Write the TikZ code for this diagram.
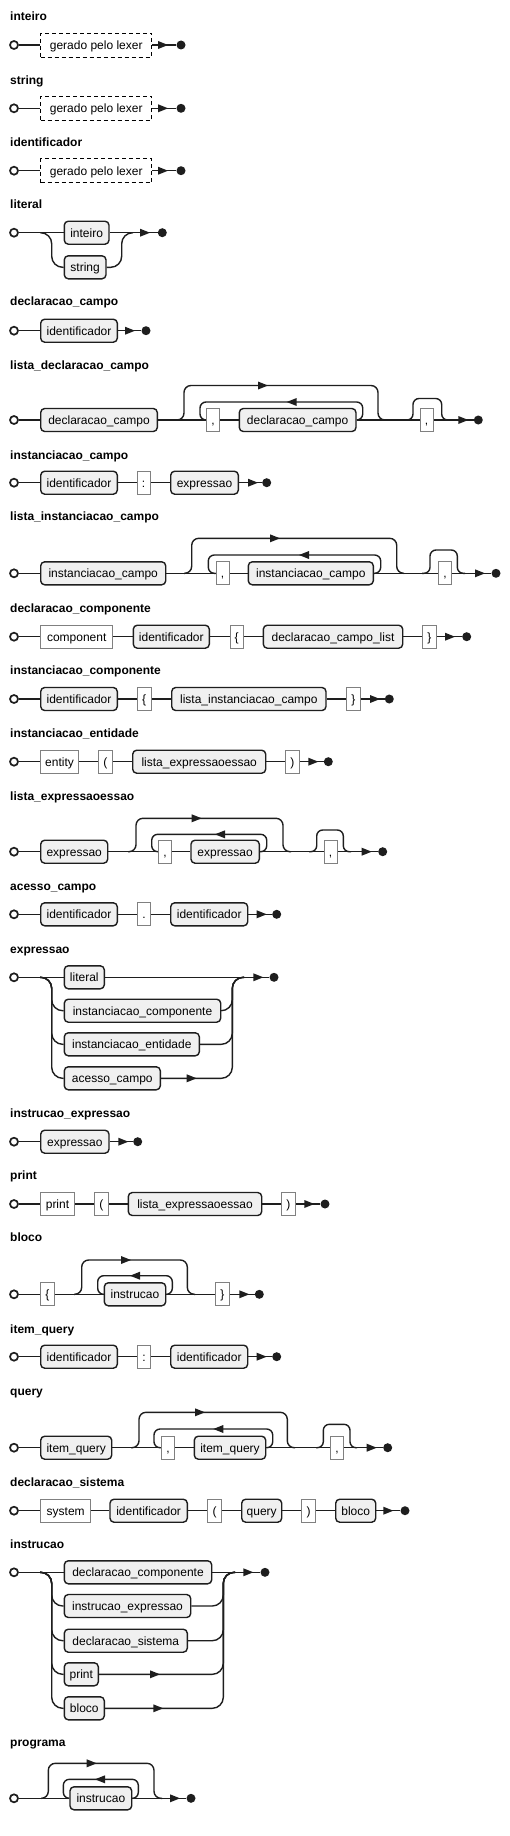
\documentclass[tikz,border=0pt]{standalone}
\usepackage{fontspec}
\setmainfont{Liberation Sans}
\definecolor{linec}{HTML}{1E1E1E}
\definecolor{ntfill}{HTML}{F0F0F0}
\definecolor{tmborder}{HTML}{808080}
\pgfdeclarelayer{bg}
\pgfsetlayers{bg,main}
\tikzset{
  rr/.style={draw=linec, line width=1.4pt},
  nt/.style={draw=linec, fill=ntfill, line width=1.4pt, rounded corners=4pt, minimum height=23pt, inner sep=0pt, text height=9pt, text depth=0pt, font=\fontsize{12}{14}\selectfont},
  tm/.style={draw=tmborder, fill=white, line width=1pt, minimum height=23pt, inner sep=0pt, text height=9pt, text depth=0pt, font=\fontsize{12}{14}\selectfont},
  lexbox/.style={draw=black, dash pattern=on 4pt off 3pt, line width=0.8pt, fill=white, minimum height=24pt, inner sep=0pt, text height=9pt, text depth=0pt, font=\fontsize{12}{14}\selectfont},
  titlel/.style={anchor=base west, inner sep=0pt, font=\bfseries\fontsize{12}{14}\selectfont},
  startc/.style={circle, draw=linec, fill=white, line width=1.7pt, minimum size=8pt, inner sep=0pt},
  endc/.style={circle, fill=linec, minimum size=9pt, inner sep=0pt},
}
\newcommand\NT[5]{\node[nt,minimum width={(#3-#2)*1pt}] (#1) at ({(#2+#3)/2},#4) {#5};}
\newcommand\TM[5]{\node[tm,minimum width={(#3-#2)*1pt}] (#1) at ({(#2+#3)/2},#4) {#5};}
\newcommand\ST[3]{\node[startc] (#1) at (#2,#3) {};}
\newcommand\EN[3]{\node[endc] (#1) at (#2,#3) {};}
\newcommand\AR[2]{\fill[linec] (#1-5,#2-4) -- (#1+5,#2) -- (#1-5,#2+4) -- cycle;}
\newcommand\AL[2]{\fill[linec] (#1+5,#2-4) -- (#1-5,#2) -- (#1+5,#2+4) -- cycle;}
\begin{document}
\begin{tikzpicture}[x=1pt,y=-1pt]
\useasboundingbox (0,0) rectangle (510,1836);
\begin{pgfonlayer}{bg}
\fill[white] (0,0) rectangle (510,1836);
\end{pgfonlayer}

% 1 inteiro
\node[titlel] (t1) at (10,21) {inteiro};
\ST{s1}{14}{45}
\node[lexbox, minimum width=111pt] (x1) at (96.2,45) {gerado pelo lexer};
\AR{163}{45}
\EN{e1}{181}{45}
% 2 string
\node[titlel] (t2) at (10,84.3) {string};
\ST{s2}{14}{108.3}
\node[lexbox, minimum width=111pt] (x2) at (96.2,108.3) {gerado pelo lexer};
\AR{163}{108.3}
\EN{e2}{181}{108.3}
% 3 identificador
\node[titlel] (t3) at (10,146.2) {identificador};
\ST{s3}{14}{170.7}
\node[lexbox, minimum width=111pt] (x3) at (96.2,170.7) {gerado pelo lexer};
\AR{163}{170.7}
\EN{e3}{181}{170.7}
% 4 literal
\node[titlel] (t4) at (10,208.7) {literal};
\ST{s4}{14}{232.7}
\NT{a4}{64.3}{109}{232.7}{inteiro}
\NT{b4}{64.3}{106}{267.3}{string}
\AR{145}{232.7}
\EN{e4}{162.3}{232.7}
% 5 declaracao_campo
\node[titlel] (t5) at (10,305.7) {declaracao\_campo};
\ST{s5}{14}{330.7}
\NT{a5}{40.7}{117.3}{330.7}{identificador}
\AR{130}{330.7}
\EN{e5}{146}{330.7}
% 6 lista_declaracao_campo
\node[titlel] (t6) at (10,369) {lista\_declaracao\_campo};
\ST{s6}{14}{420}
\NT{a6}{40.7}{157.3}{420}{declaracao\_campo}
\TM{c6}{206.7}{219.3}{420}{,}
\NT{b6}{239.3}{356}{420}{declaracao\_campo}
\TM{d6}{420}{433.3}{420}{,}
\AR{263}{385.5}
\AL{291.7}{402}
\AR{463.3}{420}
\EN{e6}{478.3}{420}
% 7 instanciacao_campo
\node[titlel] (t7) at (10,459) {instanciacao\_campo};
\ST{s7}{14}{482.7}
\NT{a7}{40.7}{117.3}{482.7}{identificador}
\TM{b7}{137.3}{150}{482.7}{:}
\NT{c7}{170.7}{238.3}{482.7}{expressao}
\AR{253}{482.7}
\EN{e7}{266.7}{482.7}
% 8 lista_instanciacao_campo
\node[titlel] (t8) at (10,520.7) {lista\_instanciacao\_campo};
\ST{s8}{14}{573.3}
\NT{a8}{40.7}{165.7}{573.3}{instanciacao\_campo}
\TM{c8}{216}{229.3}{573.3}{,}
\NT{b8}{248.3}{373.3}{573.3}{instanciacao\_campo}
\TM{d8}{438.3}{451.7}{573.3}{,}
\AR{275}{538.3}
\AL{304}{555}
\AR{480}{573.3}
\EN{e8}{496}{573.3}
% 9 declaracao_componente
\node[titlel] (t9) at (10,612.3) {declaracao\_componente};
\ST{s9}{14}{636.7}
\TM{a9}{40.7}{112.7}{636.7}{component}
\NT{b9}{133.3}{209.3}{636.7}{identificador}
\TM{c9}{230}{243.3}{636.7}{\{}
\NT{d9}{263.3}{402.7}{636.7}{declaracao\_campo\_list}
\TM{f9}{422.7}{436}{636.7}{\}}
\AR{450}{636.7}
\EN{e9}{466.7}{636.7}
% 10 instanciacao_componente
\node[titlel] (t10) at (10,674.5) {instanciacao\_componente};
\ST{s10}{14}{699}
\NT{a10}{40.7}{117.3}{699}{identificador}
\TM{b10}{137.3}{151}{699}{\{}
\NT{c10}{171.7}{326}{699}{lista\_instanciacao\_campo}
\TM{d10}{346.7}{360}{699}{\}}
\AR{375}{699}
\EN{e10}{389.3}{699}
% 11 instanciacao_entidade
\node[titlel] (t11) at (10,737.3) {instanciacao\_entidade};
\ST{s11}{14}{761.7}
\TM{a11}{40.7}{78.3}{761.7}{entity}
\TM{b11}{98.3}{112.3}{761.7}{(}
\NT{c11}{132.7}{265.7}{761.7}{lista\_expressaoessao}
\TM{d11}{285.7}{299}{761.7}{)}
\AR{313.3}{761.7}
\EN{e11}{328.3}{761.7}
% 12 lista_expressaoessao
\node[titlel] (t12) at (10,800.7) {lista\_expressaoessao};
\ST{s12}{14}{851.7}
\NT{a12}{40.7}{107.7}{851.7}{expressao}
\TM{c12}{158.3}{171.7}{851.7}{,}
\NT{b12}{191}{259.3}{851.7}{expressao}
\TM{d12}{324}{337.3}{851.7}{,}
\AR{196.7}{818.3}
\AL{220}{834.3}
\AR{366.7}{851.7}
\EN{e12}{382.7}{851.7}
% 13 acesso_campo
\node[titlel] (t13) at (10,890) {acesso\_campo};
\ST{s13}{14}{914.3}
\NT{a13}{40.7}{117.3}{914.3}{identificador}
\TM{b13}{137.3}{150.7}{914.3}{.}
\NT{c13}{170.7}{247.7}{914.3}{identificador}
\AR{261.7}{914.3}
\EN{e13}{276.7}{914.3}
% 14 expressao
\node[titlel] (t14) at (10,953.3) {expressao};
\ST{s14}{14}{977.3}
\NT{a14}{64.3}{104.3}{977.3}{literal}
\NT{b14}{64.3}{220.7}{1010.7}{instanciacao\_componente}
\NT{c14}{64.3}{199.3}{1044.3}{instanciacao\_entidade}
\NT{d14}{64.3}{160.3}{1078.3}{acesso\_campo}
\AR{191.7}{1078.3}
\AR{258.3}{977.3}
\EN{e14}{274}{977.3}
% 15 instrucao_expressao
\node[titlel] (t15) at (10,1117.3) {instrucao\_expressao};
\ST{s15}{14}{1141.7}
\NT{a15}{40.7}{109}{1141.7}{expressao}
\AR{123.3}{1141.7}
\EN{e15}{137.7}{1141.7}
% 16 print
\node[titlel] (t16) at (10,1179.5) {print};
\ST{s16}{14}{1204}
\TM{a16}{40.7}{74.3}{1204}{print}
\TM{b16}{94.3}{108.3}{1204}{(}
\NT{c16}{128.3}{261.7}{1204}{lista\_expressaoessao}
\TM{d16}{281.7}{295}{1204}{)}
\AR{309.3}{1204}
\EN{e16}{325}{1204}
% 17 bloco
\node[titlel] (t17) at (10,1241.7) {bloco};
\ST{s17}{14}{1294.3}
\TM{a17}{40.7}{54.3}{1294.3}{\{}
\NT{b17}{104.3}{165.7}{1294.3}{instrucao}
\TM{c17}{215.7}{229.3}{1294.3}{\}}
\AR{126}{1260}
\AL{135}{1275.7}
\AR{244.3}{1294.3}
\EN{e17}{259.3}{1294.3}
% 18 item_query
\node[titlel] (t18) at (10,1333) {item\_query};
\ST{s18}{14}{1356.7}
\NT{a18}{40.7}{117.3}{1356.7}{identificador}
\TM{b18}{137.3}{150.7}{1356.7}{:}
\NT{c18}{170.7}{247.7}{1356.7}{identificador}
\AR{261.7}{1356.7}
\EN{e18}{276.7}{1356.7}
% 19 query
\node[titlel] (t19) at (10,1395) {query};
\ST{s19}{14}{1447.7}
\NT{a19}{40.7}{111.7}{1447.7}{item\_query}
\TM{c19}{161.7}{174.3}{1447.7}{,}
\NT{b19}{194.3}{265.7}{1447.7}{item\_query}
\TM{d19}{330.7}{343.3}{1447.7}{,}
\AR{200}{1412.3}
\AL{218.3}{1429}
\AR{371.7}{1447.7}
\EN{e19}{387.7}{1447.7}
% 20 declaracao_sistema
\node[titlel] (t20) at (10,1486) {declaracao\_sistema};
\ST{s20}{14}{1510.7}
\TM{a20}{40.7}{90.7}{1510.7}{system}
\NT{b20}{110}{187.3}{1510.7}{identificador}
\TM{c20}{207.3}{221.7}{1510.7}{(}
\NT{d20}{241.7}{281.7}{1510.7}{query}
\TM{f20}{301.7}{315.7}{1510.7}{)}
\NT{g20}{335.7}{375.7}{1510.7}{bloco}
\AR{388.3}{1510.7}
\EN{e20}{405}{1510.7}
% 21 instrucao
\node[titlel] (t21) at (10,1548) {instrucao};
\ST{s21}{14}{1572.3}
\NT{a21}{64.3}{211.7}{1572.3}{declaracao\_componente}
\NT{b21}{64.3}{190.7}{1606}{instrucao\_expressao}
\NT{c21}{64.3}{187.3}{1640.7}{declaracao\_sistema}
\NT{d21}{64.3}{98.3}{1674.3}{print}
\NT{f21}{64.3}{104.3}{1708.3}{bloco}
\AR{155}{1674.3}
\AR{158.3}{1708.3}
\AR{248.3}{1572.3}
\EN{e21}{265}{1572.3}
% 22 programa
\node[titlel] (t22) at (10,1746.3) {programa};
\ST{s22}{14}{1798.3}
\NT{a22}{70}{131.7}{1798.3}{instrucao}
\AR{91.7}{1763.3}
\AL{100}{1779.3}
\AR{175}{1798.3}
\EN{e22}{191}{1798.3}

\begin{pgfonlayer}{bg}
\draw[rr] (s1) -- (x1.west) (x1.east) -- (e1);
\draw[rr] (s2) -- (x2.west) (x2.east) -- (e2);
\draw[rr] (s3) -- (x3.west) (x3.east) -- (e3);
% literal
\draw[rr] (s4) -- (a4.west) (a4.east) -- (e4);
\draw[rr,rounded corners=11pt] (40,232.7) -- (51.7,232.7) -- (51.7,267.3) -- (b4.west);
\draw[rr,rounded corners=11pt] (b4.east) -- (121.7,267.3) -- (121.7,232.7) -- (133,232.7);
% declaracao_campo
\draw[rr] (s5) -- (a5.west) (a5.east) -- (e5);
% lista_declaracao_campo
\draw[rr] (s6) -- (a6.west) (a6.east) -- (c6.west) (c6.east) -- (b6.west) (b6.east) -- (d6.west) (d6.east) -- (e6);
\draw[rr,rounded corners=7pt] (176,420) -- (184,420) -- (184,385.5) -- (378,385.5) -- (378,420) -- (387,420);
\draw[rr,rounded corners=6pt] (b6.east) -- (362.7,420) -- (362.7,402) -- (200,402) -- (200,420) -- (c6.west);
\draw[rr,rounded corners=6pt] (405,420) -- (413,420) -- (413,398.5) -- (441.7,398.5) -- (441.7,420) -- (449,420);
% instanciacao_campo
\draw[rr] (s7) -- (a7.west) (a7.east) -- (b7.west) (b7.east) -- (c7.west) (c7.east) -- (e7);
% lista_instanciacao_campo
\draw[rr] (s8) -- (a8.west) (a8.east) -- (c8.west) (c8.east) -- (b8.west) (b8.east) -- (d8.west) (d8.east) -- (e8);
\draw[rr,rounded corners=7pt] (184,573.3) -- (191.7,573.3) -- (191.7,538.3) -- (396.7,538.3) -- (396.7,573.3) -- (404,573.3);
\draw[rr,rounded corners=6pt] (b8.east) -- (380.7,573.3) -- (380.7,555) -- (208.3,555) -- (208.3,573.3) -- (c8.west);
\draw[rr,rounded corners=6pt] (422,573.3) -- (430,573.3) -- (430,550) -- (457.3,550) -- (457.3,573.3) -- (465,573.3);
% declaracao_componente
\draw[rr] (s9) -- (a9.west) (a9.east) -- (b9.west) (b9.east) -- (c9.west) (c9.east) -- (d9.west) (d9.east) -- (f9.west) (f9.east) -- (e9);
% instanciacao_componente
\draw[rr] (s10) -- (a10.west) (a10.east) -- (b10.west) (b10.east) -- (c10.west) (c10.east) -- (d10.west) (d10.east) -- (e10);
% instanciacao_entidade
\draw[rr] (s11) -- (a11.west) (a11.east) -- (b11.west) (b11.east) -- (c11.west) (c11.east) -- (d11.west) (d11.east) -- (e11);
% lista_expressaoessao
\draw[rr] (s12) -- (a12.west) (a12.east) -- (c12.west) (c12.east) -- (b12.west) (b12.east) -- (d12.west) (d12.east) -- (e12);
\draw[rr,rounded corners=7pt] (128,851.7) -- (136,851.7) -- (136,818.3) -- (283,818.3) -- (283,851.7) -- (291,851.7);
\draw[rr,rounded corners=6pt] (b12.east) -- (266.7,851.7) -- (266.7,834.3) -- (151.7,834.3) -- (151.7,851.7) -- (c12.west);
\draw[rr,rounded corners=6pt] (309,851.7) -- (316.7,851.7) -- (316.7,830) -- (343.3,830) -- (343.3,851.7) -- (351,851.7);
% acesso_campo
\draw[rr] (s13) -- (a13.west) (a13.east) -- (b13.west) (b13.east) -- (c13.west) (c13.east) -- (e13);
% expressao
\draw[rr] (s14) -- (a14.west) (a14.east) -- (e14);
\foreach \n/\yy in {b14/1010.7,c14/1044.3,d14/1078.3}{
  \draw[rr,rounded corners=11pt] (40,977.3) -- (51.7,977.3) -- (51.7,\yy) -- (\n.west);
  \draw[rr,rounded corners=11pt] (\n.east) -- (232.3,\yy) -- (232.3,977.3) -- (244,977.3);
}
% instrucao_expressao
\draw[rr] (s15) -- (a15.west) (a15.east) -- (e15);
% print
\draw[rr] (s16) -- (a16.west) (a16.east) -- (b16.west) (b16.east) -- (c16.west) (c16.east) -- (d16.west) (d16.east) -- (e16);
% bloco
\draw[rr] (s17) -- (a17.west) (a17.east) -- (b17.west) (b17.east) -- (c17.west) (c17.east) -- (e17);
\draw[rr,rounded corners=7pt] (74,1294.3) -- (81.7,1294.3) -- (81.7,1260) -- (187.3,1260) -- (187.3,1294.3) -- (195,1294.3);
\draw[rr,rounded corners=6pt] (b17.east) -- (172.3,1294.3) -- (172.3,1275.7) -- (97.7,1275.7) -- (97.7,1294.3) -- (b17.west);
% item_query
\draw[rr] (s18) -- (a18.west) (a18.east) -- (b18.west) (b18.east) -- (c18.west) (c18.east) -- (e18);
% query
\draw[rr] (s19) -- (a19.west) (a19.east) -- (c19.west) (c19.east) -- (b19.west) (b19.east) -- (d19.west) (d19.east) -- (e19);
\draw[rr,rounded corners=7pt] (131,1447.7) -- (139,1447.7) -- (139,1412.3) -- (287.3,1412.3) -- (287.3,1447.7) -- (295,1447.7);
\draw[rr,rounded corners=6pt] (b19.east) -- (272.7,1447.7) -- (272.7,1429) -- (154,1429) -- (154,1447.7) -- (c19.west);
\draw[rr,rounded corners=6pt] (316,1447.7) -- (323.3,1447.7) -- (323.3,1424.3) -- (350,1424.3) -- (350,1447.7) -- (357,1447.7);
% declaracao_sistema
\draw[rr] (s20) -- (a20.west) (a20.east) -- (b20.west) (b20.east) -- (c20.west) (c20.east) -- (d20.west) (d20.east) -- (f20.west) (f20.east) -- (g20.west) (g20.east) -- (e20);
% instrucao
\draw[rr] (s21) -- (a21.west) (a21.east) -- (e21);
\foreach \n/\yy in {b21/1606,c21/1640.7,d21/1674.3,f21/1708.3}{
  \draw[rr,rounded corners=11pt] (40,1572.3) -- (51.7,1572.3) -- (51.7,\yy) -- (\n.west);
  \draw[rr,rounded corners=11pt] (\n.east) -- (223.3,\yy) -- (223.3,1572.3) -- (235,1572.3);
}
% programa
\draw[rr] (s22) -- (a22.west) (a22.east) -- (e22);
\draw[rr,rounded corners=7pt] (41,1798.3) -- (48.3,1798.3) -- (48.3,1763.3) -- (154,1763.3) -- (154,1798.3) -- (162,1798.3);
\draw[rr,rounded corners=6pt] (a22.east) -- (138.3,1798.3) -- (138.3,1779.3) -- (63.3,1779.3) -- (63.3,1798.3) -- (a22.west);
\end{pgfonlayer}
\end{tikzpicture}
\end{document}
